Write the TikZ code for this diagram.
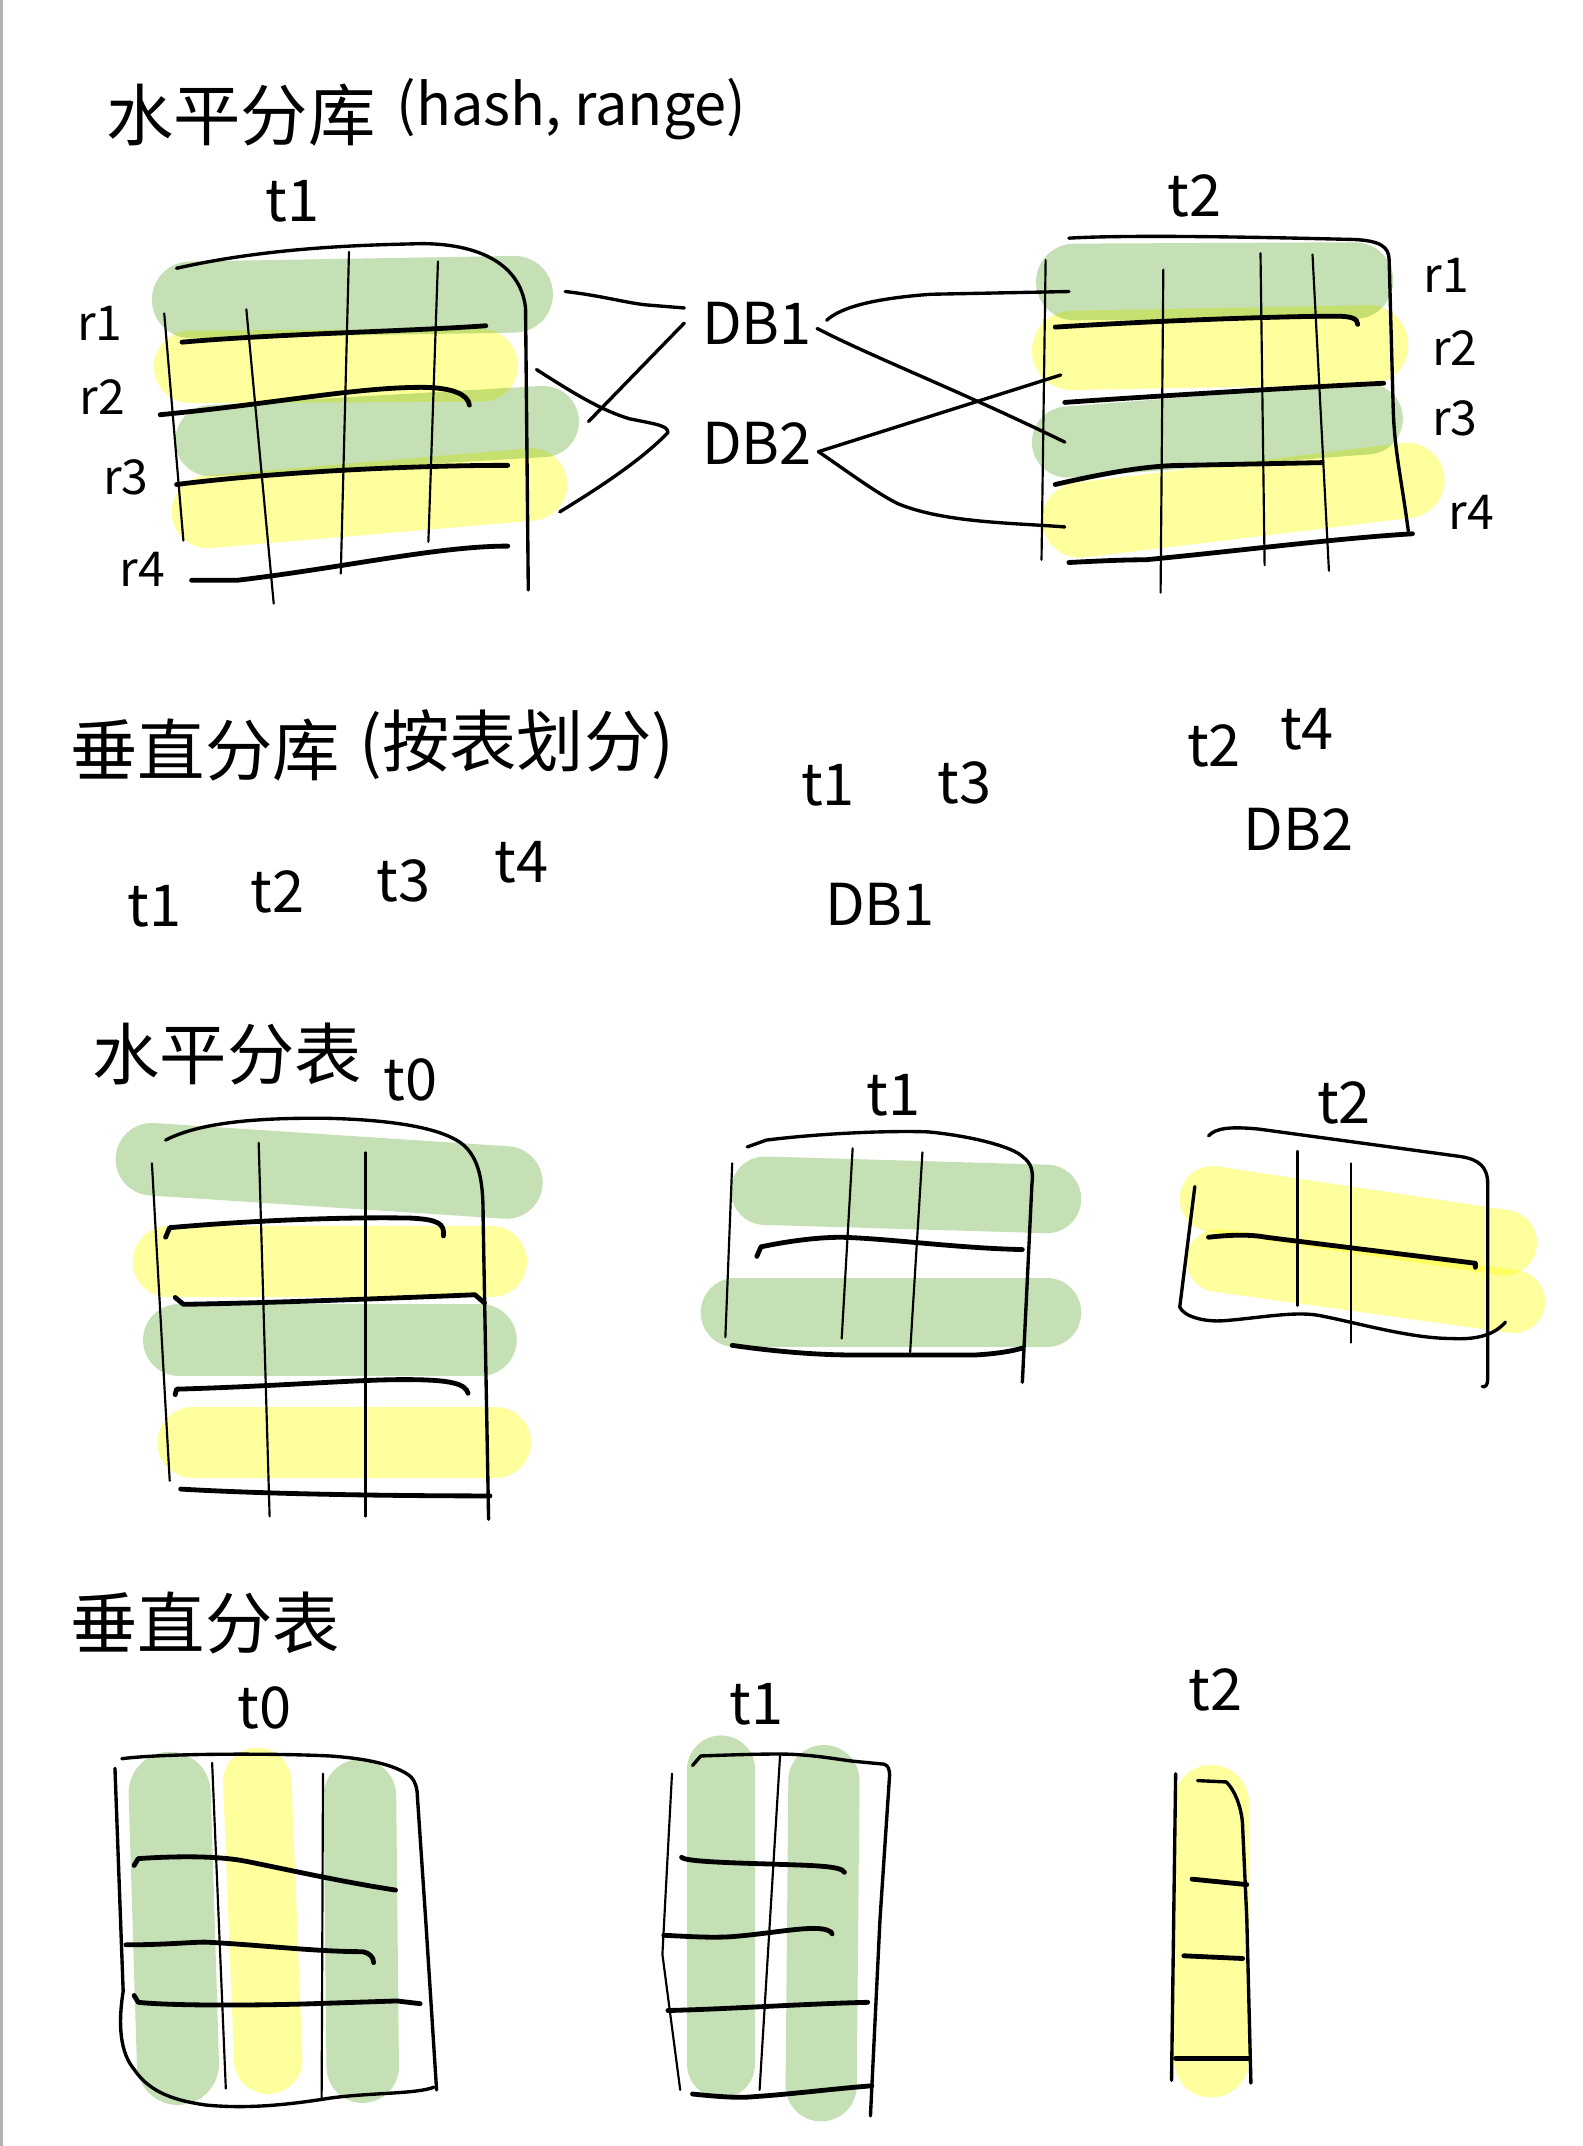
\documentclass[tikz,border=0pt]{standalone}
\usepackage{fontspec}
\newfontfamily\cjk{Noto Sans CJK SC}
\definecolor{bgreen}{HTML}{C5E0B4}
\definecolor{byellow}{HTML}{FFFF9E}
\tikzset{
  gb/.style={draw=bgreen, line width=#1, line cap=round, blend mode=multiply},
  gb/.default=5mm,
  yb/.style={draw=byellow, line width=#1, line cap=round, blend mode=multiply},
  yb/.default=5mm,
  pen/.style={draw=black, line width=0.45pt, line cap=round, line join=round},
  penm/.style={pen, line width=0.7pt},
  penb/.style={pen, line width=1pt},
  ttl/.style={font=\cjk\fontsize{14}{14}\selectfont, inner sep=0pt},
  lat/.style={font=\cjk\fontsize{12}{12}\selectfont, inner sep=0pt},
  lab/.style={font=\cjk\fontsize{12}{12}\selectfont, inner sep=0pt},
  dbl/.style={font=\cjk\fontsize{12}{12}\selectfont, inner sep=0pt},
  rl/.style={font=\cjk\fontsize{10}{10}\selectfont, inner sep=0pt},
}
\begin{document}
\begin{tikzpicture}[x=0.1mm, y=-0.1mm]
\useasboundingbox (0,0) rectangle (1156,1568);
\fill[white] (0,0) rectangle (1156,1568);
\draw[black!30, line width=0.6pt] (1,0) -- (1,1568);

%================ Section 1: horizontal database sharding
\node[ttl] (title1a) at (176,84) {水平分库};
\node[lat, anchor=west] (title1b) at (289,80) {(hash, range)};
\node[lab] (t1a) at (214,147) {t1};
\node[lab] (t2a) at (873,143) {t2};

% left table bands
\draw[gb=5.6mm] (139,219) -- (376,215);
\draw[yb=5.3mm] (139,268) -- (352,267);
\draw[gb=5.2mm] (154,322) -- (397,308);
\draw[yb=5.3mm] (152,374) -- (388,354);
% left table lines
\draw[penm] (129,196) .. controls (200,180) and (270,179) .. (308,178)
  .. controls (345,178) and (380,190) .. (384,225) -- (386,431);
\draw[pen] (120,229) -- (134,395);
\draw[pen] (180,226) -- (200,441);
\draw[pen] (255,184) -- (249,419);
\draw[pen] (320,191) -- (313,396);
\draw[penb] (133,250) .. controls (200,244) and (300,242) .. (355,238);
\draw[penb] (117,303) .. controls (200,295) and (260,283) .. (308,283)
  .. controls (330,283) and (342,288) .. (343,296);
\draw[penb] (129,354) .. controls (200,345) and (300,340) .. (371,340);
\draw[penb] (140,424) -- (173,424) .. controls (250,415) and (320,399) .. (371,399);
\node[rl] (r1a) at (73,236) {r1};
\node[rl] (r2a) at (75,290) {r2};
\node[rl] (r3a) at (92,349) {r3};
\node[rl] (r4a) at (104,416) {r4};

% DB nodes
\node[dbl] (db1a) at (553,236) {DB1};
\node[dbl] (db2a) at (553,324) {DB2};
\coordinate (tip) at (598,330);

% left connectors
\draw[penm] (413,213) .. controls (440,216) and (460,222) .. (475,223) -- (500,225);
\draw[penm] (500,236) -- (430,308);
\draw[penm] (392,270) .. controls (420,288) and (440,300) .. (460,306)
  .. controls (480,310) and (488,311) .. (488,316) .. controls (470,335) and (440,355) .. (409,374);

% right table bands
\draw[gb=5.6mm] (785,206) -- (990,205);
\draw[yb=5.8mm] (783,256) -- (1000,252);
\draw[gb=5.2mm] (780,323) -- (999,306);
\draw[yb=5.5mm] (789,380) -- (1028,351);
% right table lines
\draw[penm] (781,174) .. controls (830,171) and (950,174) .. (990,175)
  .. controls (1008,176) and (1015,180) .. (1015,190) -- (1018,300) .. controls (1019,330) and (1024,350) .. (1029,388);
\draw[pen] (764,190) -- (761,409);
\draw[pen] (850,197) -- (848,433);
\draw[pen] (921,185) -- (924,413);
\draw[pen] (959,186) -- (971,417);
\draw[penb] (771,239) .. controls (850,234) and (940,231) .. (976,231) .. controls (988,231) and (992,233) .. (992,237);
\draw[penb] (778,294) .. controls (850,289) and (950,283) .. (1011,280);
\draw[penb] (771,354) .. controls (810,345) and (840,340) .. (865,340) -- (966,338);
\draw[penb] (781,411) .. controls (800,410) and (820,409) .. (837,409) .. controls (900,403) and (980,393) .. (1032,390);
\node[rl] (r1b) at (1057,201) {r1};
\node[rl] (r2b) at (1063,254) {r2};
\node[rl] (r3b) at (1063,306) {r3};
\node[rl] (r4b) at (1075,374) {r4};
\coordinate (row1b) at (781,213);
\coordinate (row2b) at (775,274);
\coordinate (row3b) at (778,323);
\coordinate (row4b) at (778,385);

% right connectors
\draw[penm] (604,234) .. controls (615,224) and (640,218) .. (680,215) -- (row1b);
\draw[penm] (597,240) .. controls (640,262) and (700,285) .. (row3b);
\draw[penm] (tip) -- (row2b);
\draw[penm] (tip) .. controls (620,345) and (640,360) .. (656,368) .. controls (690,382) and (740,382) .. (row4b);

%================ Section 2: vertical database sharding
\node[ttl] (title2a) at (150,548) {垂直分库};
\node[ttl, anchor=west] (title2b) at (262,544) {(按表划分)};
\node[lab] (s2t1) at (113,662) {t1};
\node[lab] (s2t2) at (203,652) {t2};
\node[lab] (s2t3) at (295,644) {t3};
\node[lab] (s2t4) at (381,630) {t4};
\node[lab] (s2t1b) at (605,574) {t1};
\node[lab] (s2t3b) at (705,572) {t3};
\node[lab] (s2db1) at (643,661) {DB1};
\node[lab] (s2t2b) at (887,545) {t2};
\node[lab] (s2t4b) at (955,533) {t4};
\node[lab] (s2db2) at (949,606) {DB2};

%================ Section 3: horizontal table sharding
\node[ttl] (title3) at (166,770) {水平分表};
\node[lab] (s3t0) at (300,789) {t0};
\node[lab] (s3t1) at (653,800) {t1};
\node[lab] (s3t2) at (982,806) {t2};

% big t0
\draw[gb=5.3mm] (111,847) -- (370,864);
\draw[yb=5.2mm] (123,922) -- (359,922);
\draw[gb=5.3mm] (131,979) -- (351,979);
\draw[yb=5.2mm] (141,1054) -- (362,1054);
\draw[penm] (121,833) .. controls (150,818) and (200,817) .. (235,817)
  .. controls (290,818) and (330,825) .. (342,840) .. controls (352,852) and (353,870) .. (353,890) -- (357,1110);
\draw[pen] (111,850) -- (124,1082);
\draw[pen] (189,835) -- (197,1108);
\draw[pen] (267,842) -- (267,1108);
\draw[penb] (121,904) -- (124,897) .. controls (180,892) and (250,889) .. (300,890) .. controls (320,891) and (325,894) .. (324,903);
\draw[penb] (128,948) -- (134,953) .. controls (200,952) and (300,948) .. (347,946) -- (354,952);
\draw[penb] (128,1019) -- (129,1015) .. controls (200,1013) and (260,1008) .. (295,1008) .. controls (330,1008) and (340,1011) .. (342,1018);
\draw[penb] (132,1088) .. controls (200,1092) and (300,1093) .. (358,1093);

% middle t1
\draw[gb=5mm] (559,870) -- (765,876);
\draw[gb=5mm] (537,959) -- (765,959);
\draw[penm] (546,838) -- (560,833) .. controls (600,828) and (650,826) .. (678,827)
  .. controls (710,830) and (740,838) .. (747,845) .. controls (754,850) and (755,856) .. (754,865) -- (747,1010);
\draw[pen] (535,850) -- (530,977);
\draw[pen] (623,839) -- (615,978);
\draw[pen] (674,842) -- (665,988);
\draw[penb] (553,918) -- (556,911) .. controls (580,906) and (600,904) .. (615,904) .. controls (650,905) and (700,912) .. (747,913);
\draw[penb] (535,983) .. controls (570,988) and (600,990) .. (622,990) -- (713,990) .. controls (730,989) and (740,987) .. (747,985);

% right t2
\draw[yb=4.8mm] (886,876) -- (1099,908);
\draw[yb=4.6mm] (890,921) -- (1106,951);
\draw[penm] (883,830) .. controls (888,824) and (900,823) .. (920,825) -- (1067,845)
  .. controls (1080,847) and (1087,852) .. (1087,865) -- (1087,1008) .. controls (1087,1012) and (1085,1014) .. (1083,1013);
\draw[penm] (873,867) -- (862,955) .. controls (865,962) and (880,966) .. (894,965)
  .. controls (920,963) and (945,958) .. (963,961) .. controls (990,966) and (1030,978) .. (1061,978)
  .. controls (1080,979) and (1092,975) .. (1100,966);
\draw[pen] (948,841) -- (948,954);
\draw[pen] (987,850) -- (987,981);
\draw[penb] (883,904) .. controls (900,902) and (915,902) .. (925,904) -- (1078,923) -- (1078,926);

%================ Section 4: vertical table sharding
\node[ttl] (title4) at (150,1186) {垂直分表};
\node[lab] (s4t0) at (193,1248) {t0};
\node[lab] (s4t1) at (553,1245) {t1};
\node[lab] (s4t2) at (888,1235) {t2};

% t0
\draw[gb=6mm] (124,1310) -- (130,1508);
\draw[yb=5mm] (188,1302) -- (196,1505);
\draw[gb=5.3mm] (263,1312) -- (265,1510);
\draw[penm] (89,1285) .. controls (120,1281) and (200,1281) .. (241,1283)
  .. controls (270,1285) and (290,1290) .. (300,1298) .. controls (304,1302) and (305,1308) .. (305,1313) -- (311,1402) -- (319,1527);
\draw[penm] (84,1292) -- (90,1455) .. controls (86,1480) and (88,1500) .. (98,1512)
  .. controls (110,1530) and (130,1535) .. (150,1538) .. controls (180,1541) and (210,1538) .. (241,1533)
  .. controls (270,1529) and (305,1530) .. (317,1525);
\draw[pen] (155,1288) -- (165,1526);
\draw[pen] (236,1296) -- (235,1534);
\draw[penb] (98,1363) -- (101,1358) .. controls (130,1356) and (160,1356) .. (180,1360) .. controls (210,1366) and (250,1375) .. (289,1381);
\draw[penb] (92,1421) .. controls (120,1421) and (140,1419) .. (150,1419) .. controls (190,1421) and (230,1426) .. (265,1426) .. controls (270,1427) and (273,1430) .. (273,1434);
\draw[penb] (98,1458) -- (101,1463) .. controls (130,1466) and (200,1465) .. (229,1464) -- (290,1462) -- (307,1464);

% t1
\draw[gb=5mm] (527,1293) -- (527,1508);
\draw[gb=5.2mm] (602,1301) -- (600,1524);
\draw[penm] (506,1290) -- (512,1283) .. controls (540,1282) and (570,1281) .. (582,1282)
  .. controls (600,1283) and (615,1286) .. (625,1287) -- (646,1289) .. controls (649,1290) and (650,1293) .. (650,1297) -- (643,1402) -- (636,1546);
\draw[pen] (491,1296) -- (484,1428) -- (497,1527);
\draw[pen] (570,1282) -- (555,1527);
\draw[penb] (498,1357) .. controls (500,1360) and (530,1361) .. (564,1362) .. controls (590,1363) and (615,1363) .. (617,1368);
\draw[penb] (485,1414) .. controls (505,1415) and (520,1416) .. (535,1415) .. controls (560,1413) and (580,1409) .. (595,1409) .. controls (603,1409) and (608,1411) .. (608,1413);
\draw[penb] (488,1469) .. controls (530,1468) and (590,1464) .. (634,1463);
\draw[penb] (506,1530) .. controls (525,1532) and (540,1533) .. (550,1532) .. controls (580,1530) and (610,1526) .. (637,1524);

% t2
\draw[yb=5.5mm] (885,1317) -- (885,1505);
\draw[penm] (859,1296) -- (856,1520);
\draw[penm] (875,1301) -- (896,1302) .. controls (904,1310) and (908,1325) .. (908,1336) -- (911,1402) -- (914,1522);
\draw[penb] (871,1373) -- (911,1377);
\draw[penb] (865,1429) -- (908,1431);
\draw[penb] (859,1504) -- (912,1504);
\end{tikzpicture}
\end{document}
